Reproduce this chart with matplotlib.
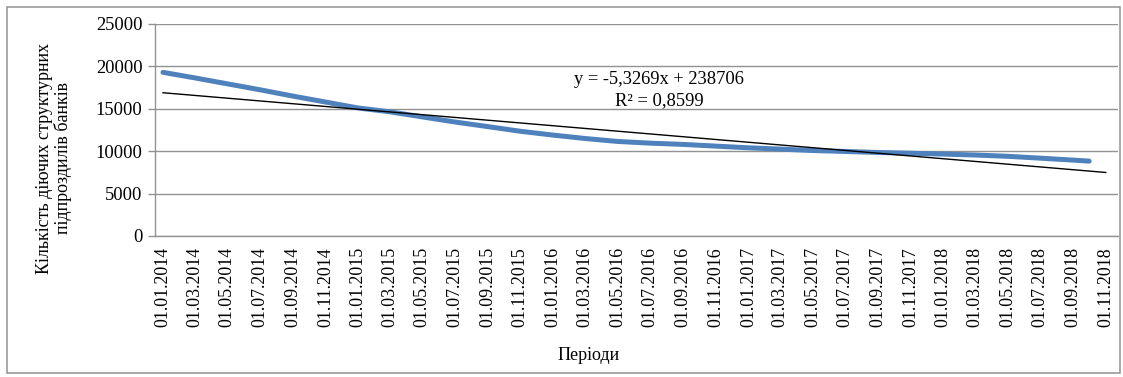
import datetime as dt
import matplotlib
matplotlib.use("Agg")
import matplotlib.pyplot as plt
from matplotlib.patches import Rectangle

# data (kept every two months, last point 01.10.2018)
dates = ["01.01.2014", "01.03.2014", "01.05.2014", "01.07.2014", "01.09.2014", "01.11.2014",
         "01.01.2015", "01.03.2015", "01.05.2015", "01.07.2015", "01.09.2015", "01.11.2015",
         "01.01.2016", "01.03.2016", "01.05.2016", "01.07.2016", "01.09.2016", "01.11.2016",
         "01.01.2017", "01.03.2017", "01.05.2017", "01.07.2017", "01.09.2017", "01.11.2017",
         "01.01.2018", "01.03.2018", "01.05.2018", "01.07.2018", "01.09.2018", "01.10.2018"]
branches = [19300, 18650, 17950, 17250, 16500, 15800,
            15100, 14650, 14050, 13450, 12900, 12350,
            11900, 11500, 11150, 10950, 10800, 10600,
            10400, 10250, 10080, 9970, 9850, 9760,
            9660, 9550, 9400, 9180, 8950, 8830]

# trend line from the chart label (x is the Excel date serial)
slope = -5.3269
intercept = 238706
r2 = "0,8599"
trend_start = "01.01.2014"
trend_end = "01.11.2018"

tick_labels = ["01.%02d.%d" % (m, y) for y in range(2014, 2019) for m in (1, 3, 5, 7, 9, 11)]

plt.rcParams['font.family'] = ['Liberation Serif', 'DejaVu Serif']

def to_date(s):
    return dt.datetime.strptime(s, "%d.%m.%Y")

def excel_serial(d):
    return (d - dt.datetime(1899, 12, 30)).days

x = [to_date(d) for d in dates]
tx = [to_date(trend_start), to_date(trend_end)]
ty = [slope * excel_serial(d) + intercept for d in tx]
ticks = [to_date(t) for t in tick_labels]

fig = plt.figure(figsize=(11.23, 3.77), dpi=100)
ax = fig.add_axes([155/1123, 1-236/377, (1118-155)/1123, (236-24)/377])

gray = "#929292"
ax.set_ylim(0, 25000)
ax.set_yticks(range(0, 25001, 5000))
ax.yaxis.grid(True, color=gray, linewidth=1.0)
ax.set_axisbelow(True)

ax.plot(x, branches, color="#4f81bd", linewidth=3.6, solid_capstyle="round",
        solid_joinstyle="round", zorder=3)
ax.plot(tx, ty, color="black", linewidth=1.0, zorder=4)

ax.set_xlim(dt.datetime(2013, 12, 17), dt.datetime(2018, 11, 24))
ax.set_xticks(ticks)
ax.set_xticklabels(tick_labels, rotation=90)
ax.tick_params(axis='x', length=0, pad=8, labelsize=12.9)
ax.tick_params(axis='y', length=5, color=gray, width=1.0, labelsize=13.3, pad=4)

for s in ["top", "right"]:
    ax.spines[s].set_visible(False)
ax.spines["left"].set_color(gray)
ax.spines["left"].set_linewidth(1.0)
ax.spines["bottom"].set_color(gray)
ax.spines["bottom"].set_linewidth(1.0)

ax.text(659/1123, 1-80/377, "y = -5,3269x + 238706", transform=fig.transFigure,
        ha="center", va="center", fontsize=13.3)
ax.text(659/1123, 1-101/377, "R² = " + r2, transform=fig.transFigure,
        ha="center", va="center", fontsize=13.3)

fig.text(54/1123, 1-158/377, "Кількість діючих структурних\nпідпроздилів банків",
         rotation=90, ha="center", va="center", fontsize=13, multialignment="center",
         linespacing=1.05)
fig.text(589/1123, 1-355/377, "Періоди", ha="center", va="center", fontsize=13)

fig.patches.append(Rectangle((7/1123, 4/377), 1113/1123, 366/377, transform=fig.transFigure,
                             fill=False, edgecolor=gray, linewidth=1.1))

fig.savefig("out.png", dpi=100)
